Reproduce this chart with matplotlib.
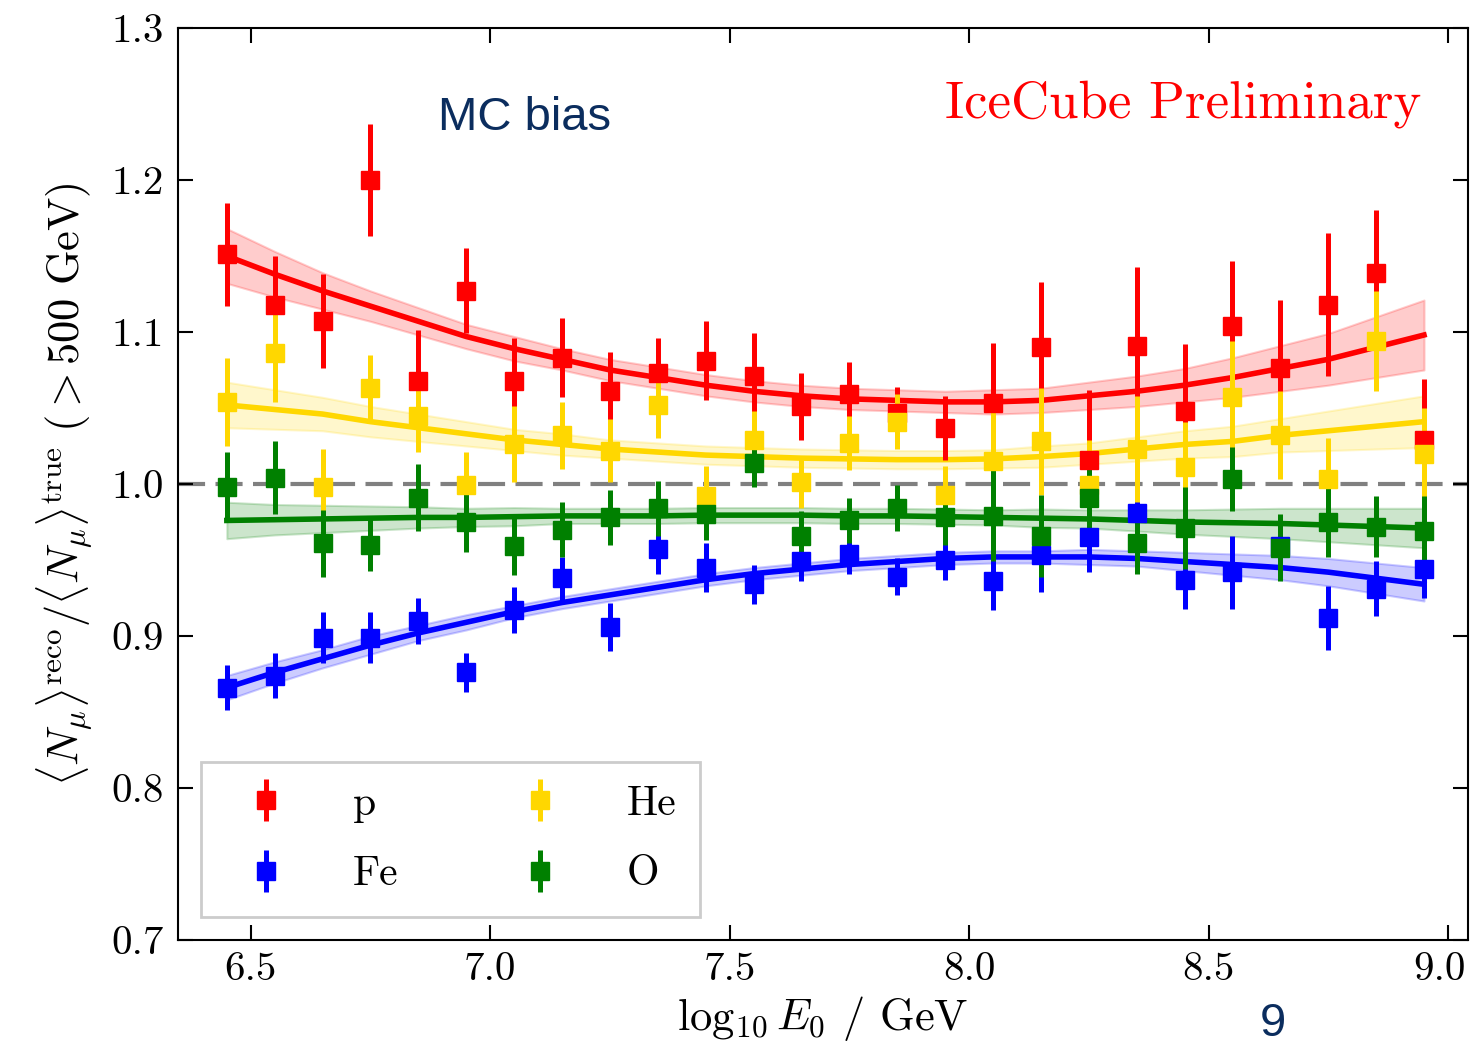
import matplotlib
matplotlib.use('Agg')
import matplotlib.pyplot as plt
import matplotlib.transforms as mtransforms
import numpy as np

plt.rcParams['font.family'] = 'serif'
plt.rcParams['font.serif'] = ['cmr10']
plt.rcParams['mathtext.fontset'] = 'cm'
plt.rcParams['axes.formatter.use_mathtext'] = True

# energy bins (log10 E0 / GeV)
x = [6.45, 6.55, 6.65, 6.75, 6.85, 6.95, 7.05, 7.15, 7.25, 7.35, 7.45, 7.55, 7.65,
     7.75, 7.85, 7.95, 8.05, 8.15, 8.25, 8.35, 8.45, 8.55, 8.65, 8.75, 8.85, 8.95]

# MC points
p_y = [1.151, 1.118, 1.107, 1.200, 1.068, 1.127, 1.068, 1.083, 1.061, 1.073, 1.081, 1.071, 1.051,
       1.059, 1.047, 1.037, 1.053, 1.090, 1.016, 1.091, 1.048, 1.104, 1.076, 1.118, 1.139, 1.029]
p_err = [0.034, 0.032, 0.031, 0.037, 0.033, 0.028, 0.028, 0.026, 0.026, 0.023, 0.026, 0.028, 0.022,
         0.021, 0.017, 0.021, 0.040, 0.043, 0.046, 0.052, 0.044, 0.043, 0.045, 0.047, 0.041, 0.040]
he_y = [1.054, 1.086, 0.998, 1.063, 1.045, 0.999, 1.026, 1.032, 1.022, 1.052, 0.992, 1.029, 1.001,
        1.027, 1.041, 0.993, 1.015, 1.028, 0.999, 1.023, 1.011, 1.057, 1.032, 1.003, 1.094, 1.020]
he_err = [0.029, 0.032, 0.025, 0.022, 0.024, 0.022, 0.025, 0.022, 0.021, 0.022, 0.020, 0.019, 0.017,
          0.018, 0.018, 0.019, 0.035, 0.035, 0.030, 0.035, 0.030, 0.037, 0.029, 0.027, 0.033, 0.030]
o_y = [0.998, 1.004, 0.961, 0.960, 0.991, 0.975, 0.959, 0.970, 0.978, 0.984, 0.980, 1.014, 0.966,
       0.976, 0.984, 0.978, 0.979, 0.966, 0.991, 0.961, 0.971, 1.003, 0.958, 0.975, 0.972, 0.969]
o_err = [0.023, 0.024, 0.022, 0.017, 0.022, 0.020, 0.019, 0.018, 0.018, 0.018, 0.017, 0.016, 0.016,
         0.015, 0.015, 0.018, 0.030, 0.027, 0.020, 0.020, 0.027, 0.021, 0.022, 0.023, 0.020, 0.023]
fe_y = [0.866, 0.874, 0.899, 0.899, 0.910, 0.876, 0.917, 0.938, 0.906, 0.957, 0.945, 0.934, 0.949,
        0.954, 0.939, 0.950, 0.936, 0.953, 0.965, 0.981, 0.937, 0.942, 0.959, 0.912, 0.931, 0.944]
fe_err = [0.015, 0.015, 0.017, 0.017, 0.015, 0.013, 0.015, 0.014, 0.016, 0.016, 0.016, 0.013, 0.013,
          0.013, 0.012, 0.013, 0.019, 0.024, 0.023, 0.018, 0.019, 0.024, 0.020, 0.021, 0.018, 0.019]

# fitted curves, with half width of the uncertainty band
p_fit = [1.150, 1.138, 1.127, 1.117, 1.107, 1.097, 1.089, 1.082, 1.075, 1.070, 1.065, 1.061, 1.058,
         1.056, 1.055, 1.054, 1.054, 1.055, 1.058, 1.061, 1.065, 1.070, 1.076, 1.082, 1.090, 1.098]
p_band = [0.018, 0.015, 0.012, 0.010, 0.009, 0.008, 0.008, 0.007, 0.007, 0.007, 0.007, 0.007, 0.007,
          0.007, 0.007, 0.007, 0.008, 0.008, 0.009, 0.010, 0.011, 0.013, 0.015, 0.017, 0.020, 0.023]
he_fit = [1.052, 1.049, 1.046, 1.041, 1.037, 1.033, 1.029, 1.026, 1.023, 1.021, 1.019, 1.018, 1.017,
          1.0165, 1.016, 1.016, 1.0165, 1.018, 1.020, 1.023, 1.026, 1.028, 1.032, 1.035, 1.038, 1.041]
he_band = [0.015, 0.013, 0.011, 0.010, 0.009, 0.008, 0.007, 0.007, 0.006, 0.006, 0.006, 0.006, 0.006,
           0.006, 0.006, 0.006, 0.006, 0.007, 0.007, 0.008, 0.009, 0.010, 0.011, 0.013, 0.015, 0.017]
o_fit = [0.976, 0.9765, 0.977, 0.9775, 0.978, 0.978, 0.9785, 0.979, 0.979, 0.979, 0.9795, 0.9795, 0.9795,
         0.979, 0.979, 0.9785, 0.978, 0.9775, 0.977, 0.976, 0.975, 0.9745, 0.974, 0.973, 0.972, 0.971]
o_band = [0.012, 0.010, 0.009, 0.008, 0.007, 0.006, 0.006, 0.005, 0.005, 0.005, 0.005, 0.005, 0.005,
          0.005, 0.005, 0.005, 0.005, 0.006, 0.006, 0.007, 0.008, 0.009, 0.010, 0.011, 0.012, 0.013]
fe_fit = [0.866, 0.876, 0.885, 0.894, 0.902, 0.909, 0.916, 0.922, 0.927, 0.932, 0.937, 0.941, 0.944,
          0.947, 0.949, 0.951, 0.952, 0.952, 0.952, 0.951, 0.949, 0.947, 0.945, 0.942, 0.938, 0.934]
fe_band = [0.008, 0.007, 0.006, 0.006, 0.005, 0.005, 0.004, 0.004, 0.004, 0.004, 0.004, 0.004, 0.004,
           0.004, 0.004, 0.004, 0.004, 0.004, 0.005, 0.005, 0.006, 0.007, 0.008, 0.009, 0.010, 0.011]

series = [
    ('p', p_y, p_err, p_fit, p_band, '#ff0000'),
    ('Fe', fe_y, fe_err, fe_fit, fe_band, '#0000ff'),
    ('He', he_y, he_err, he_fit, he_band, '#ffd700'),
    ('O', o_y, o_err, o_fit, o_band, '#008000'),
]

fig = plt.figure(figsize=(14.71, 10.47), dpi=100)
ax = fig.add_axes([0.121, 0.1022, 0.877, 0.8711])

ax.axhline(1.0, color='#808080', lw=3, dashes=(6.5, 2.5), zorder=1)

for name, y, err, fit, band, col in series:
    fit = np.array(fit)
    band = np.array(band)
    ax.fill_between(x, fit - band, fit + band, color=col, alpha=0.2, lw=1.5, zorder=2)
    ax.plot(x, fit, color=col, lw=4, zorder=3)

for name, y, err, fit, band, col in series:
    ax.errorbar(x, y, yerr=err, fmt='s', color=col, ms=13.5, elinewidth=3.6,
                capsize=0, label=name, zorder=4)

ax.set_xlim(6.348, 9.042)
ax.set_ylim(0.7, 1.3)
ax.set_xticks([6.5, 7.0, 7.5, 8.0, 8.5, 9.0])
ax.set_xticklabels(['6.5', '7.0', '7.5', '8.0', '8.5', '9.0'])
ax.set_yticks([0.7, 0.8, 0.9, 1.0, 1.1, 1.2, 1.3])
ax.set_yticklabels(['0.7', '0.8', '0.9', '1.0', '1.1', '1.2', '1.3'])
ax.tick_params(direction='in', length=11, width=1.5, top=True, right=True,
               labelsize=29.5)
ax.tick_params(axis='x', pad=9)
ax.tick_params(axis='y', pad=10)
for s in ax.spines.values():
    s.set_linewidth(1.5)

# last x label sits a bit left of its tick, as in the original
last = ax.get_xticklabels()[-1]
last.set_transform(last.get_transform() +
                   mtransforms.ScaledTranslation(-9 / 100, 0, fig.dpi_scale_trans))

ax.set_xlabel(r'$\log_{10} E_0$ / GeV', fontsize=32, labelpad=4)
ax.set_ylabel(r'$\langle N_\mu\rangle^{\rm reco}/\langle N_\mu\rangle^{\rm true}\ (>500\ {\rm GeV})$',
              fontsize=32, labelpad=12)

leg = ax.legend(loc='lower left', ncol=2, fontsize=30, fancybox=False, framealpha=1,
                edgecolor='#cccccc', borderpad=0.56, borderaxespad=0.56,
                handlelength=2.0, handletextpad=1.08,
                columnspacing=2.4, labelspacing=0.8)
leg.get_frame().set_linewidth(2)

ax.text(0.964, 0.902, 'IceCube Preliminary', transform=ax.transAxes, ha='right',
        va='baseline', color='#ff0000', fontsize=38)

fig.text(0.2978, 0.8758, 'MC bias', family='Liberation Sans', color='#0b2d5e',
         fontsize=34, va='baseline')
fig.text(0.865, 0.001, '9', family='Liberation Sans', color='#0b2d5e',
         fontsize=34, va='bottom', ha='center')

fig.savefig('out.png', dpi=100)
